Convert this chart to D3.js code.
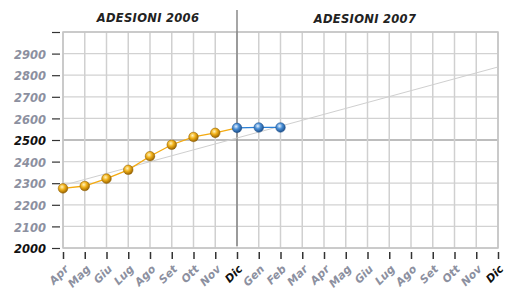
<!DOCTYPE html>
<html>
<head>
<meta charset="utf-8">
<script src="https://cdn.jsdelivr.net/npm/d3@7"></script>
<style>
  body { margin: 0; background: #fff; }
  text { font-family: "DejaVu Sans", sans-serif; font-weight: bold; font-style: italic; }
</style>
</head>
<body>
<div id="chart"></div>
<script>
///////////////////// DATA /////////////////////
let months = ["Apr","Mag","Giu","Lug","Ago","Set","Ott","Nov","Dic",
              "Gen","Feb","Mar","Apr","Mag","Giu","Lug","Ago","Set","Ott","Nov","Dic"];
let values2006 = [2276, 2287, 2321, 2362, 2425, 2478, 2514, 2533, 2556];   // Apr..Dic 2006
let values2007 = [2556, 2558, 2558];                                      // Dic 2006..Feb 2007
let trend = [2290, 2838];   // start (Apr 2006) / end (Dic 2007)
let yTicks = [2000, 2100, 2200, 2300, 2400, 2500, 2600, 2700, 2800, 2900, 3000];
let titles = ["ADESIONI 2006", "ADESIONI 2007"];

let width = 510, height = 289;
let margin = {top: 32, right: 12, bottom: 41, left: 63};
let w = width - margin.left - margin.right,
    h = height - margin.top - margin.bottom;

let svg = d3.select("#chart").append("svg")
    .attr("width", width).attr("height", height);

// sphere gradients
let defs = svg.append("defs");
let mkGrad = (id, light, mid, dark) => {
    let g = defs.append("radialGradient").attr("id", id)
        .attr("cx", "40%").attr("cy", "35%").attr("r", "65%");
    g.append("stop").attr("offset", "0%").attr("stop-color", light);
    g.append("stop").attr("offset", "45%").attr("stop-color", mid);
    g.append("stop").attr("offset", "100%").attr("stop-color", dark);
};
mkGrad("gOrange", "#fff4c0", "#f2b21a", "#9a6400");
mkGrad("gBlue", "#e6f2ff", "#4a8fd6", "#1d4f8a");

let g = svg.append("g").attr("transform", `translate(${margin.left},${margin.top})`);

let x = d3.scaleLinear().domain([0, months.length - 1]).range([0, w]);
let y = d3.scaleLinear().domain([2000, 3000]).range([h, 0]);

// grid
g.append("g").selectAll("line").data(yTicks).join("line")
    .attr("x1", 0).attr("x2", w)
    .attr("y1", d => y(d)).attr("y2", d => y(d))
    .attr("stroke", d => d === 2500 ? "#bdbdbd" : "#d2d2d2")
    .attr("stroke-width", d => d === 2500 ? 2 : 1.3);
g.append("g").selectAll("line").data(d3.range(months.length)).join("line")
    .attr("x1", d => x(d)).attr("x2", d => x(d))
    .attr("y1", 0).attr("y2", h)
    .attr("stroke", "#d0d0d0").attr("stroke-width", 1.5);
g.append("rect").attr("width", w).attr("height", h)
    .attr("fill", "none").attr("stroke", "#c4c4c4").attr("stroke-width", 1.5);

// divider at Dic 2006
g.append("line")
    .attr("x1", x(8)).attr("x2", x(8))
    .attr("y1", -22).attr("y2", h - 2)
    .attr("stroke", "#777").attr("stroke-width", 1.3);

// titles (pixel centres)
g.selectAll(".title").data(titles).join("text")
    .attr("class", "title")
    .attr("x", (d, i) => i === 0 ? 148 - margin.left : 365 - margin.left)
    .attr("y", (d, i) => i === 0 ? -10 : -9)
    .attr("text-anchor", "middle")
    .attr("font-size", 11.5)
    .attr("letter-spacing", 0.3)
    .attr("fill", "#222")
    .text(d => d);

// y axis
let yAxis = g.append("g")
    .call(d3.axisLeft(y).tickValues(yTicks).tickSize(8).tickPadding(6)
          .tickFormat(d => d === 3000 ? "" : d))
    .attr("transform", "translate(-3,0)");
yAxis.select(".domain").remove();
yAxis.selectAll(".tick line").attr("stroke", "#333").attr("stroke-width", 1.2);
yAxis.selectAll(".tick text")
    .attr("font-size", 11.5)
    .attr("font-family", "DejaVu Sans")
    .attr("fill", d => (d === 2000 || d === 2500) ? "#111" : "#8c90a0")
    .attr("dy", "0.4em");

// x axis
let xAxis = g.append("g").attr("transform", `translate(0,${h + 4})`)
    .call(d3.axisBottom(x).tickValues(d3.range(months.length)).tickSize(7)
          .tickFormat(i => months[i]));
xAxis.select(".domain").remove();
xAxis.selectAll(".tick line").attr("stroke", "#333").attr("stroke-width", 1.5);
xAxis.selectAll(".tick text")
    .attr("font-size", 11)
    .attr("font-family", "DejaVu Sans")
    .attr("text-anchor", "end")
    .attr("fill", i => (i === 8 || i === 20) ? "#111" : "#8c90a0")
    .attr("transform", "translate(3,15) rotate(-45)")
    .attr("dy", "0.35em")
    .attr("y", 0);

// trend line
g.append("line")
    .attr("x1", x(0)).attr("y1", y(trend[0]))
    .attr("x2", x(months.length - 1)).attr("y2", y(trend[1]))
    .attr("stroke", "#cfcfcf").attr("stroke-width", 1);

let line = d3.line().x(d => x(d.i)).y(d => y(d.v));
let s2006 = values2006.map((v, i) => ({i, v}));
let s2007 = values2007.map((v, i) => ({i: i + 8, v}));

g.append("path").datum(s2006).attr("d", line)
    .attr("fill", "none").attr("stroke", "#f4aa10").attr("stroke-width", 1.3);
g.append("path").datum(s2007).attr("d", line)
    .attr("fill", "none").attr("stroke", "#2a7fd4").attr("stroke-width", 1.3);

g.selectAll(".p6").data(s2006.slice(0, 8)).join("circle")
    .attr("cx", d => x(d.i)).attr("cy", d => y(d.v)).attr("r", 4.8)
    .attr("fill", "url(#gOrange)").attr("stroke", "#8a5a00").attr("stroke-width", 0.5);
g.selectAll(".p7").data(s2007).join("circle")
    .attr("cx", d => x(d.i)).attr("cy", d => y(d.v)).attr("r", 4.8)
    .attr("fill", "url(#gBlue)").attr("stroke", "#1d4f8a").attr("stroke-width", 0.5);
</script>
</body>
</html>
